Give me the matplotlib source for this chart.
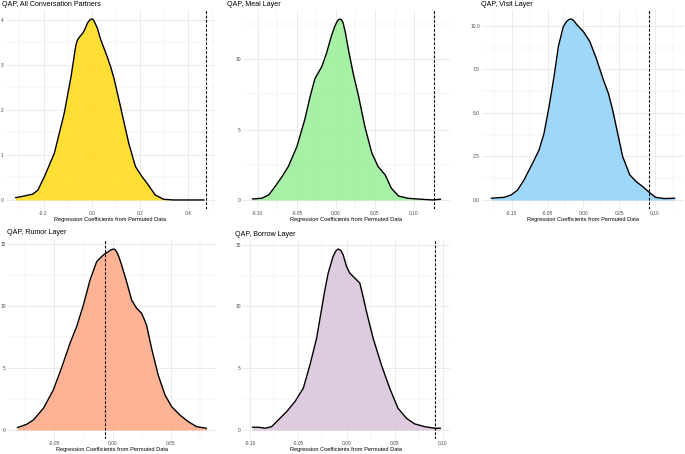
import matplotlib
matplotlib.use("Agg")
import matplotlib.pyplot as plt
import numpy as np

plt.rcParams["font.family"] = ["Liberation Sans", "DejaVu Sans"]
plt.rcParams["axes.unicode_minus"] = False

W, H = 685, 454
fig = plt.figure(figsize=(W / 100, H / 100), dpi=100)
fig.patch.set_facecolor("white")

# ── Density curves (x = coefficient, y = density) ──
all_x = [-0.316, -0.292, -0.244, -0.223, -0.196, -0.155, -0.114, -0.086, -0.066,
         -0.059, -0.048, -0.038, -0.028, -0.018, -0.008, -0.002, 0.003, 0.009,
         0.016, 0.023, 0.037, 0.050, 0.064, 0.078, 0.092, 0.119, 0.153, 0.181,
         0.208, 0.229, 0.263, 0.297, 0.338, 0.400, 0.465]
all_y = [0.05, 0.074, 0.13, 0.22, 0.52, 1.04, 1.93, 2.74, 3.44,
         3.56, 3.64, 3.70, 3.80, 3.93, 4.00, 4.02, 4.02, 3.98,
         3.90, 3.82, 3.56, 3.38, 3.18, 2.96, 2.70, 2.07, 1.26, 0.74,
         0.52, 0.37, 0.11, 0.015, 0.0, 0.0, 0.0]
all_obs = 0.471

meal_x = [-0.107, -0.095, -0.086, -0.078, -0.069, -0.061, -0.050, -0.040, -0.033,
          -0.027, -0.018, -0.012, -0.006, -0.002, 0.001, 0.003, 0.005, 0.007,
          0.009, 0.012, 0.016, 0.022, 0.029, 0.037, 0.046, 0.054, 0.063, 0.071,
          0.080, 0.092, 0.109, 0.124, 0.134]
meal_y = [0.07, 0.12, 0.36, 0.95, 1.66, 2.37, 3.79, 5.69, 7.35,
          8.60, 9.48, 10.43, 11.61, 12.25, 12.62, 12.78, 12.84, 12.78,
          12.6, 11.9, 10.66, 9.0, 7.35, 5.21, 3.32, 2.37, 1.78, 0.83,
          0.28, 0.12, 0.05, 0.0, 0.05]
meal_obs = 0.1255

visit_x = [-0.129, -0.111, -0.101, -0.092, -0.083, -0.071, -0.062, -0.055, -0.048,
           -0.041, -0.035, -0.028, -0.024, -0.021, -0.018, -0.016, -0.013, -0.009,
           0.000, 0.009, 0.018, 0.028, 0.035, 0.041, 0.048, 0.055, 0.065, 0.074,
           0.083, 0.091, 0.101, 0.113, 0.128]
visit_y = [0.10, 0.15, 0.29, 0.57, 1.15, 2.11, 2.87, 3.83, 5.36,
           7.09, 8.81, 9.96, 10.22, 10.34, 10.39, 10.38, 10.28, 10.06,
           9.67, 9.10, 8.14, 6.90, 6.13, 5.17, 3.83, 2.49, 1.44, 1.05,
           0.77, 0.48, 0.15, 0.08, 0.10]
visit_obs = 0.0912

rumor_x = [-0.0817, -0.0737, -0.068, -0.0594, -0.0509, -0.044, -0.0366, -0.0309,
           -0.0251, -0.0194, -0.0137, -0.008, -0.0037, -0.0015, 0.0006, 0.002,
           0.0034, 0.0055, 0.0077, 0.012, 0.0163, 0.0206, 0.0249, 0.0291, 0.0334,
           0.0391, 0.0449, 0.0506, 0.0577, 0.0649, 0.072, 0.0806]
rumor_y = [0.19, 0.46, 0.81, 1.75, 3.23, 4.98, 7.0, 8.35,
           10.10, 12.12, 13.6, 14.14, 14.41, 14.55, 14.62, 14.58,
           14.41, 13.95, 13.33, 11.98, 10.50, 9.83, 9.43, 8.48, 6.60,
           4.44, 2.83, 1.89, 1.21, 0.67, 0.27, 0.13]
rumor_obs = -0.0063

borrow_x = [-0.0976, -0.0914, -0.0845, -0.0776, -0.0707, -0.062, -0.0534, -0.0448,
            -0.0379, -0.031, -0.0224, -0.019, -0.0139, -0.0110, -0.0087, -0.0060,
            -0.0035, 0.0, 0.0034, 0.0086, 0.0138, 0.0172, 0.0207, 0.0276, 0.0362,
            0.0448, 0.0534, 0.0621, 0.0707, 0.081, 0.0914, 0.0976]
borrow_y = [0.22, 0.22, 0.14, 0.27, 0.81, 1.49, 2.30, 3.38,
            5.27, 7.43, 11.35, 12.7, 14.05, 14.50, 14.65, 14.55,
            14.19, 13.24, 12.7, 12.3, 11.9, 10.8, 9.59, 7.43, 5.27,
            3.38, 1.76, 0.95, 0.49, 0.27, 0.14, 0.14]
borrow_obs = 0.0921

titles = ["QAP, All Conversation Partners", "QAP, Meal Layer", "QAP, Visit Layer",
          "QAP, Rumor Layer", "QAP, Borrow Layer"]
fills = ["gold", "lightgreen", "lightskyblue", "lightsalmon", "thistle"]
xticks = [[-0.2, 0.0, 0.2, 0.4],
          [-0.10, -0.05, 0.00, 0.05, 0.10],
          [-0.10, -0.05, 0.00, 0.05, 0.10],
          [-0.05, 0.00, 0.05],
          [-0.10, -0.05, 0.00, 0.05, 0.10]]
xfmt = ["%.1f", "%.2f", "%.2f", "%.2f", "%.2f"]
yticks = [[0, 1, 2, 3, 4], [0, 5, 10], [0.0, 2.5, 5.0, 7.5, 10.0],
          [0, 5, 10, 15], [0, 5, 10, 15]]
yfmt = ["%d", "%d", "%.1f", "%d", "%d"]

curves = [(all_x, all_y, all_obs), (meal_x, meal_y, meal_obs),
          (visit_x, visit_y, visit_obs), (rumor_x, rumor_y, rumor_obs),
          (borrow_x, borrow_y, borrow_obs)]

# panel boxes in pixels (left, top, right, bottom) and title / label anchors
boxes = [(6, 10, 215, 209), (243, 10, 450, 209), (482, 10, 684, 209),
         (8, 240, 216, 439), (243, 240, 450, 439)]
title_x = [2, 227, 481, 7, 235]
title_y = [5, 5, 5, 233, 234]
xlab_y = [220, 220, 220, 450, 450]

GRID = "#EBEBEB"
TICK = "#4D4D4D"

for i, (xs, ys, obs) in enumerate(curves):
    l, t, r, b = boxes[i]
    ax = fig.add_axes([l / W, 1 - b / H, (r - l) / W, (b - t) / H])
    ax.set_facecolor("white")
    for s in ax.spines.values():
        s.set_visible(False)

    # ggplot-style 5% expansion
    lo = min(min(xs), obs)
    hi = max(max(xs), obs)
    pad = 0.05 * (hi - lo)
    ymax = max(ys)

    xt = xticks[i]
    yt = yticks[i]
    xstep = xt[1] - xt[0]
    ystep = yt[1] - yt[0]
    ax.set_xticks(xt)
    ax.set_yticks(yt)
    ax.set_xticks(np.arange(xt[0] - xstep / 2, hi + pad, xstep), minor=True)
    ax.set_yticks(np.arange(yt[0] + ystep / 2, 1.05 * ymax, ystep), minor=True)
    ax.set_xticklabels([xfmt[i] % v for v in xt])
    ax.set_yticklabels([yfmt[i] % v for v in yt])
    ax.set_xlim(lo - pad, hi + pad)
    ax.set_ylim(-0.05 * ymax, 1.05 * ymax)
    ax.grid(which="major", color=GRID, lw=0.7, zorder=0)
    ax.grid(which="minor", color=GRID, lw=0.35, zorder=0)
    ax.set_axisbelow(True)
    ax.tick_params(which="both", length=0, labelsize=3.5, colors=TICK, pad=1.6)

    ax.fill_between(xs, ys, 0, color=fills[i], alpha=0.8, lw=0, zorder=1)
    ax.plot(xs, ys, color="black", lw=1.0, solid_joinstyle="round",
            solid_capstyle="round", zorder=3)
    ax.axvline(obs, color="black", lw=0.8, ls=(0, (2.5, 1.5)), zorder=4)

    fig.text((l + r) / 2 / W, 1 - xlab_y[i] / H,
             "Regression Coefficients from Permuted Data", fontsize=4.1,
             ha="center", va="center", color="black")
    fig.text(title_x[i] / W, 1 - title_y[i] / H, titles[i], fontsize=5.1,
             ha="left", va="center", color="black")

plt.savefig("out.png", dpi=100, facecolor="white")
